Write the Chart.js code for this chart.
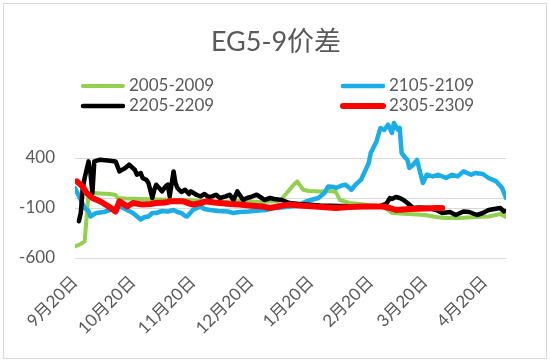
<!DOCTYPE html>
<html>
<head>
<meta charset="utf-8">
<script src="https://cdn.jsdelivr.net/npm/chart.js@4/dist/chart.umd.min.js"></script>
<style>
    body { margin: 0; background: #ffffff; }
</style>
</head>
<body>
<canvas id="grafico" width="550" height="363"></canvas>
<script>

// DATOS
const titulo = 'EG5-9价差';

const nombresSeries = ['2005-2009', '2105-2109', '2205-2209', '2305-2309'];

// dias contados desde 9月20日
const diasTicks = [0, 30, 61, 91, 122, 153, 181, 212];

const etiquetasTicks = ['9月20日', '10月20日', '11月20日', '12月20日', '1月20日', '2月20日', '3月20日', '4月20日'];

const valoresTicksY = [-600, -100, 0, 400];

const dias2005 = [0, 3, 5, 6, 7, 9, 13, 18, 21, 22, 26, 34, 44, 58, 65, 75, 85, 96, 105, 107, 110, 113, 115, 118, 121, 127, 132, 135, 137, 142, 152, 160, 164, 173, 181, 187, 191, 199, 207, 214, 220, 223];
const valores2005 = [-484, -460, -434, -200, 50, 50, 45, 40, 30, 0, -5, -10, -15, -20, -30, -40, -30, -40, -30, -10, 60, 130, 166, 83, 70, 66, 70, 60, -20, -50, -70, -90, -150, -160, -170, -190, -200, -200, -190, -185, -160, -190];

const dias2105 = [0, 3, 5, 7, 8, 10, 11, 15, 18, 21, 23, 27, 30, 34, 36, 38, 40, 42, 45, 48, 51, 53, 55, 57, 58, 61, 65, 67, 70, 74, 79, 82, 85, 90, 95, 99, 102, 105, 109, 114, 119, 122, 126, 129, 131, 134, 135, 138, 140, 142, 143, 145, 148, 150, 152, 153, 156, 158, 160, 162, 164, 165, 167, 168, 169, 171, 172, 173, 175, 177, 178, 180, 182, 185, 188, 192, 195, 198, 201, 205, 207, 211, 214, 218, 221, 223];
const valores2105 = [100, -20, -100, -130, -185, -160, -150, -140, -120, -100, -85, -120, -150, -215, -190, -185, -150, -150, -130, -135, -120, -140, -150, -180, -185, -120, -85, -110, -120, -130, -135, -150, -140, -135, -125, -120, -100, -100, -90, -80, -40, -20, 0, 50, 116, 110, 100, 125, 133, 100, 83, 130, 183, 266, 350, 450, 566, 700, 680, 733, 650, 750, 683, 700, 450, 400, 383, 300, 333, 380, 300, 150, 233, 216, 233, 200, 233, 216, 266, 233, 250, 240, 200, 166, 100, 0];

const dias2205 = [2, 3, 4, 5, 7, 8, 9, 10, 13, 17, 21, 23, 26, 28, 31, 32, 34, 35, 37, 38, 40, 41, 42, 44, 45, 47, 48, 49, 51, 52, 53, 55, 57, 59, 60, 63, 65, 67, 69, 71, 73, 75, 78, 80, 82, 84, 87, 89, 91, 94, 97, 98, 101, 103, 107, 111, 116, 127, 137, 147, 158, 161, 163, 164, 166, 168, 170, 172, 175, 178, 183, 187, 190, 194, 197, 201, 204, 208, 211, 214, 217, 220, 222, 223];
const valores2205 = [-233, -150, 100, 200, 366, 250, 50, 366, 383, 375, 366, 266, 300, 333, 280, 233, 250, 200, 180, 150, 0, 80, 133, 90, 66, 120, 133, 16, 266, 150, 100, 60, 83, 40, 66, 30, 16, 40, 10, 16, 33, 0, 16, 33, -20, 66, -20, 0, 10, 33, -5, -20, 0, -10, -20, -50, -60, -75, -80, -85, -80, -60, 0, -10, 10, 0, -20, -50, -100, -95, -100, -120, -150, -140, -170, -135, -140, -170, -150, -120, -110, -100, -135, -130];

const dias2305 = [1, 4, 6, 9, 13, 17, 21, 23, 27, 30, 35, 39, 42, 47, 49, 56, 61, 65, 68, 72, 75, 80, 85, 90, 97, 101, 106, 111, 116, 124, 135, 142, 149, 159, 163, 166, 173, 181, 187, 190];
const valores2305 = [166, 116, 50, 0, -33, -80, -135, -33, -85, -50, -66, -60, -50, -45, -33, -33, -66, -50, -33, -45, -50, -60, -66, -75, -85, -100, -80, -66, -75, -85, -100, -90, -85, -85, -100, -120, -110, -105, -100, -100];

const fuente = 'Lato, "Noto Sans CJK SC", sans-serif';
const gris = '#595959';

function puntos(dias, valores) {
    return dias.map((d, i) => ({ x: d, y: valores[i] }));
}

// TITULO, LEYENDA Y MARCO
const marco = {

    id: 'marco',

    beforeDraw(chart) {
        const ctx = chart.ctx;
        ctx.save();
        ctx.fillStyle = '#ffffff';
        ctx.fillRect(0, 0, chart.width, chart.height);
        ctx.strokeStyle = '#d9d9d9';
        ctx.lineWidth = 1;
        ctx.strokeRect(3.5, 3.5, 543, 355);
        ctx.restore();
    },

    afterDraw(chart) {
        const ctx = chart.ctx;
        ctx.save();

        ctx.fillStyle = gris;
        ctx.font = '27px ' + fuente;
        ctx.textAlign = 'center';
        ctx.textBaseline = 'middle';
        ctx.fillText(titulo, 276, 42);

        const columnas = [81, 341];
        const filas = [86, 106];

        ctx.font = '17px ' + fuente;
        ctx.textAlign = 'left';

        chart.data.datasets.forEach((ds, i) => {
            const x = columnas[i % 2];
            const y = filas[Math.floor(i / 2)];
            ctx.strokeStyle = ds.borderColor;
            ctx.lineWidth = ds.borderWidth;
            ctx.lineCap = 'round';
            ctx.beginPath();
            ctx.moveTo(x + 2, y);
            ctx.lineTo(x + 42, y);
            ctx.stroke();
            ctx.fillStyle = gris;
            ctx.fillText(ds.label, x + 48, y);
        });

        ctx.restore();
    }
};

const lineaBase = {
    fill: false,
    tension: 0,
    pointRadius: 0,
    borderJoinStyle: 'round',
    borderCapStyle: 'round'
};

// CHART
new Chart(

    document.getElementById('grafico'),

    {
        type: 'line',

        data: {
            datasets: [
                { ...lineaBase, label: nombresSeries[0], data: puntos(dias2005, valores2005), borderColor: '#92d050', borderWidth: 4, order: 4 },
                { ...lineaBase, label: nombresSeries[1], data: puntos(dias2105, valores2105), borderColor: '#1aade6', borderWidth: 4.5, order: 3 },
                { ...lineaBase, label: nombresSeries[2], data: puntos(dias2205, valores2205), borderColor: '#000000', borderWidth: 4.5, order: 2 },
                { ...lineaBase, label: nombresSeries[3], data: puntos(dias2305, valores2305), borderColor: '#ff0000', borderWidth: 6, order: 1 }
            ]
        },

        options: {

            responsive: false,
            animation: false,
            devicePixelRatio: 1,

            layout: {
                padding: { left: 0, right: 44, top: 118, bottom: 0 }
            },

            plugins: {
                legend: { display: false },
                title: { display: false },
                tooltip: { enabled: false }
            },

            scales: {

                x: {
                    type: 'linear',
                    min: 0,
                    max: 223,
                    afterBuildTicks: s => { s.ticks = diasTicks.map(v => ({ value: v })); },
                    afterFit: s => { s.height = 105; },
                    grid: { display: false, drawTicks: false },
                    border: { display: false },
                    ticks: {
                        autoSkip: false,
                        minRotation: 45,
                        maxRotation: 45,
                        padding: 14,
                        color: gris,
                        font: { family: fuente, size: 17 },
                        callback: (v, i) => etiquetasTicks[i]
                    }
                },

                y: {
                    min: -600,
                    max: 800,
                    afterBuildTicks: s => { s.ticks = valoresTicksY.map(v => ({ value: v })); },
                    afterFit: s => { s.width = 75; },
                    grid: { color: '#d9d9d9', drawTicks: false },
                    border: { display: false },
                    ticks: {
                        padding: 20,
                        color: gris,
                        font: { family: fuente, size: 17 },
                        callback: v => v === 0 ? '' : String(v)
                    }
                }
            }
        },

        plugins: [marco]
    }
);

</script>
</body>
</html>
